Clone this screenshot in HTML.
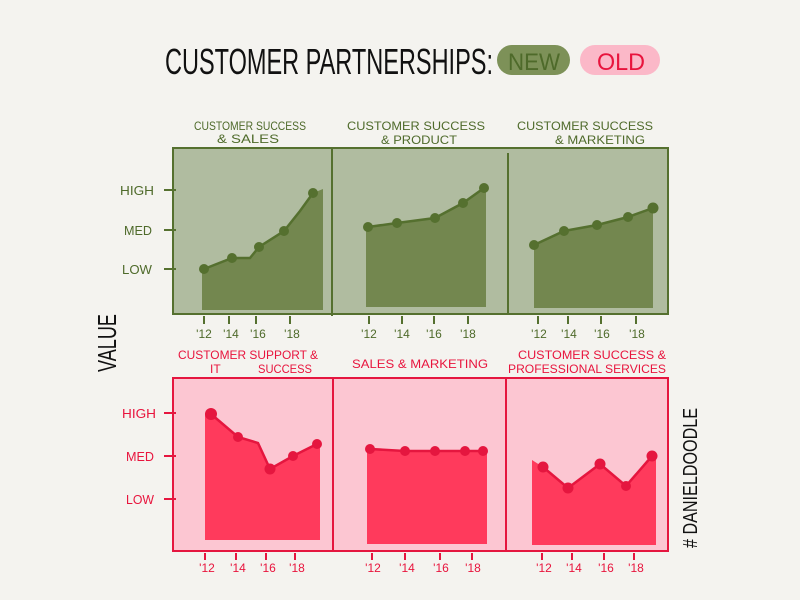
<!DOCTYPE html>
<html><head><meta charset="utf-8"><style>
html,body{margin:0;padding:0;background:#f4f3ef;}
svg{display:block;font-family:"Liberation Sans",sans-serif;}
</style></head><body>
<svg width="800" height="600" viewBox="0 0 800 600">
<rect width="800" height="600" fill="#f4f3ef"/>
<!-- title -->
<text x="165" y="74" font-size="36" fill="#111" textLength="328" lengthAdjust="spacingAndGlyphs">CUSTOMER PARTNERSHIPS:</text>
<rect x="497" y="45" width="73" height="30" rx="15" fill="#7d9158"/>
<text x="508" y="70" font-size="24" fill="#4e6a2a" textLength="52" lengthAdjust="spacingAndGlyphs">NEW</text>
<rect x="580" y="45" width="80" height="30" rx="15" fill="#fbb8c8"/>
<text x="597" y="70" font-size="24" fill="#e8143d" textLength="48" lengthAdjust="spacingAndGlyphs">OLD</text>
<!-- VALUE -->
<text transform="translate(116,372) rotate(-90)" font-size="26" fill="#111" textLength="58" lengthAdjust="spacingAndGlyphs">VALUE</text>
<text transform="translate(697,548) rotate(-90)" font-size="20" fill="#111" textLength="140" lengthAdjust="spacingAndGlyphs"># DANIELDOODLE</text>

<!-- TOP -->
<g fill="#4e6a2a" font-size="12">
<text x="194" y="130" textLength="112" lengthAdjust="spacingAndGlyphs">CUSTOMER SUCCESS</text>
<text x="217" y="143" textLength="62" lengthAdjust="spacingAndGlyphs">&amp; SALES</text>
<text x="347" y="130" textLength="138" lengthAdjust="spacingAndGlyphs">CUSTOMER SUCCESS</text>
<text x="381" y="144" textLength="76" lengthAdjust="spacingAndGlyphs">&amp; PRODUCT</text>
<text x="517" y="130" textLength="136" lengthAdjust="spacingAndGlyphs">CUSTOMER SUCCESS</text>
<text x="555" y="144" textLength="90" lengthAdjust="spacingAndGlyphs">&amp; MARKETING</text>
<text x="120" y="195" font-size="13" textLength="34" lengthAdjust="spacingAndGlyphs">HIGH</text>
<text x="124" y="235" font-size="13" textLength="28" lengthAdjust="spacingAndGlyphs">MED</text>
<text x="122" y="274" font-size="13" textLength="30" lengthAdjust="spacingAndGlyphs">LOW</text>
</g>
<rect x="173" y="148" width="495" height="166" fill="#b0bca0" stroke="#55702f" stroke-width="2"/>
<g stroke="#55702f" stroke-width="2"><line x1="332" y1="148" x2="332" y2="316"/><line x1="508" y1="153" x2="508" y2="314"/>
<line x1="164" y1="190" x2="176" y2="190"/><line x1="164" y1="230" x2="176" y2="230"/><line x1="164" y1="269" x2="176" y2="269"/></g>
<g fill="#73874f">
<polygon points="202,269 204,269 232,258 250,258 259,247 284,231 300,211 313,193 323,189 323,310 202,310"/>
<polygon points="366,227 368,227 397,223 435,218 463,203 484,188 486,188 486,307 366,307"/>
<polygon points="534,245 564,231 597,225 628,217 653,208 653,308 534,308"/>
</g>
<g fill="none" stroke="#55702f" stroke-width="2.5">
<polyline points="204,269 232,258 250,258 259,247 284,231 300,211 313,193"/>
<polyline points="368,227 397,223 435,218 463,203 484,188"/>
<polyline points="534,245 564,231 597,225 628,217 653,208"/>
</g>
<g fill="#55702f">
<circle cx="204" cy="269" r="5"/><circle cx="232" cy="258" r="5"/><circle cx="259" cy="247" r="5"/><circle cx="284" cy="231" r="5"/><circle cx="313" cy="193" r="5"/>
<circle cx="368" cy="227" r="5"/><circle cx="397" cy="223" r="5"/><circle cx="435" cy="218" r="5"/><circle cx="463" cy="203" r="5"/><circle cx="484" cy="188" r="5"/>
<circle cx="534" cy="245" r="5"/><circle cx="564" cy="231" r="5"/><circle cx="597" cy="225" r="5"/><circle cx="628" cy="217" r="5"/><circle cx="653" cy="208" r="5.5"/>
</g>
<g stroke="#55702f" stroke-width="2">
<line x1="204" y1="316" x2="204" y2="324"/><line x1="229" y1="316" x2="229" y2="324"/><line x1="256" y1="316" x2="256" y2="324"/><line x1="290" y1="316" x2="290" y2="324"/>
<line x1="369" y1="316" x2="369" y2="324"/><line x1="402" y1="316" x2="402" y2="324"/><line x1="434" y1="316" x2="434" y2="324"/><line x1="468" y1="316" x2="468" y2="324"/>
<line x1="538" y1="316" x2="538" y2="324"/><line x1="568" y1="316" x2="568" y2="324"/><line x1="601" y1="316" x2="601" y2="324"/><line x1="636" y1="316" x2="636" y2="324"/>
</g>
<g fill="#4e6a2a" font-size="12" text-anchor="middle">
<text x="204" y="338">'12</text><text x="231" y="338">'14</text><text x="258" y="338">'16</text><text x="292" y="338">'18</text>
<text x="369" y="338">'12</text><text x="402" y="338">'14</text><text x="434" y="338">'16</text><text x="468" y="338">'18</text>
<text x="539" y="338">'12</text><text x="569" y="338">'14</text><text x="602" y="338">'16</text><text x="637" y="338">'18</text>
</g>

<!-- BOTTOM -->
<g fill="#e8143d" font-size="12">
<text x="178" y="359" textLength="140" lengthAdjust="spacingAndGlyphs">CUSTOMER SUPPORT &amp;</text>
<text x="210" y="373">IT</text>
<text x="258" y="373" textLength="54" lengthAdjust="spacingAndGlyphs">SUCCESS</text>
<text x="352" y="368" textLength="136" lengthAdjust="spacingAndGlyphs">SALES &amp; MARKETING</text>
<text x="518" y="359" textLength="148" lengthAdjust="spacingAndGlyphs">CUSTOMER SUCCESS &amp;</text>
<text x="508" y="373" textLength="158" lengthAdjust="spacingAndGlyphs">PROFESSIONAL SERVICES</text>
<text x="122" y="418" font-size="13" textLength="34" lengthAdjust="spacingAndGlyphs">HIGH</text>
<text x="126" y="461" font-size="13" textLength="28" lengthAdjust="spacingAndGlyphs">MED</text>
<text x="126" y="504" font-size="13" textLength="28" lengthAdjust="spacingAndGlyphs">LOW</text>
</g>
<rect x="173" y="378" width="495" height="173" fill="#fcc6d2" stroke="#e5163f" stroke-width="2"/>
<g stroke="#e5163f" stroke-width="2"><line x1="333" y1="378" x2="333" y2="551"/><line x1="506" y1="378" x2="506" y2="551"/>
<line x1="164" y1="413" x2="176" y2="413"/><line x1="164" y1="456" x2="176" y2="456"/><line x1="164" y1="499" x2="176" y2="499"/></g>
<g fill="#ff3a5c">
<polygon points="205,414 211,414 238,437 258,443 270,469 293,456 317,444 320,444 320,540 205,540"/>
<polygon points="367,449 370,449 405,451 435,451 465,451 483,451 487,451 487,544 367,544"/>
<polygon points="532,460 543,467 568,488 600,464 626,486 652,456 656,456 656,545 532,545"/>
</g>
<g fill="none" stroke="#e5163f" stroke-width="2.5">
<polyline points="211,414 238,437 258,443 270,469 293,456 317,444"/>
<polyline points="370,449 405,451 435,451 465,451 483,451"/>
<polyline points="543,467 568,488 600,464 626,486 652,456"/>
</g>
<g fill="#e5163f">
<circle cx="211" cy="414" r="6"/><circle cx="238" cy="437" r="5"/><circle cx="270" cy="469" r="5.5"/><circle cx="293" cy="456" r="5"/><circle cx="317" cy="444" r="5"/>
<circle cx="370" cy="449" r="5"/><circle cx="405" cy="451" r="5"/><circle cx="435" cy="451" r="5"/><circle cx="465" cy="451" r="5"/><circle cx="483" cy="451" r="5"/>
<circle cx="543" cy="467" r="5.5"/><circle cx="568" cy="488" r="5.5"/><circle cx="600" cy="464" r="5.5"/><circle cx="626" cy="486" r="5"/><circle cx="652" cy="456" r="5.5"/>
</g>
<g stroke="#e5163f" stroke-width="2">
<line x1="205" y1="553" x2="205" y2="560"/><line x1="236" y1="553" x2="236" y2="560"/><line x1="266" y1="553" x2="266" y2="560"/><line x1="295" y1="553" x2="295" y2="560"/>
<line x1="372" y1="553" x2="372" y2="560"/><line x1="405" y1="553" x2="405" y2="560"/><line x1="440" y1="553" x2="440" y2="560"/><line x1="472" y1="553" x2="472" y2="560"/>
<line x1="542" y1="553" x2="542" y2="560"/><line x1="572" y1="553" x2="572" y2="560"/><line x1="604" y1="553" x2="604" y2="560"/><line x1="634" y1="553" x2="634" y2="560"/>
</g>
<g fill="#e8143d" font-size="12" text-anchor="middle">
<text x="207" y="572">'12</text><text x="238" y="572">'14</text><text x="268" y="572">'16</text><text x="297" y="572">'18</text>
<text x="373" y="572">'12</text><text x="407" y="572">'14</text><text x="441" y="572">'16</text><text x="473" y="572">'18</text>
<text x="544" y="572">'12</text><text x="574" y="572">'14</text><text x="606" y="572">'16</text><text x="636" y="572">'18</text>
</g>
</svg>
</body></html>
